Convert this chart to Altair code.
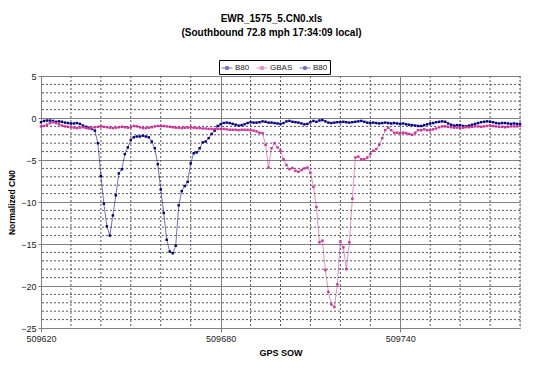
import altair as alt
import pandas as pd

# ---- data (1 s steps starting at GPS SOW 509620) ----
t0 = 509620
b80_values = [
    -0.5, -0.35, -0.3, -0.3, -0.35, -0.45, -0.4, -0.45, -0.55, -0.6, -0.65, -0.65, -0.6, -0.7, -0.9, -1.05, -1.15, -1.3,
    -1.5, -3.0, -6.9, -10.2, -12.9, -14.0, -11.6, -9.2, -6.6, -6.1, -4.3, -3.5, -2.6, -2.3, -2.2, -2.2, -2.1, -2.2, -2.3,
    -2.8, -3.6, -5.5, -8.5, -11.3, -14.5, -15.9, -16.1, -15.2, -10.4, -8.7, -8.1, -7.6, -5.4, -4.2, -4.1, -3.6, -2.9,
    -2.8, -2.4, -1.9, -1.5, -0.95, -0.75,
    -0.6, -0.55, -0.6, -0.7, -0.8, -0.9, -0.85, -0.75, -0.6, -0.5,
    -0.55, -0.55, -0.5, -0.4, -0.45, -0.55, -0.55, -0.6, -0.65, -0.7,
    -0.6, -0.4, -0.35, -0.45, -0.5, -0.55, -0.65, -0.75, -0.7, -0.5,
    -0.35, -0.45, -0.3, -0.25, -0.4, -0.55, -0.6, -0.55, -0.5, -0.5,
    -0.45, -0.5, -0.55, -0.5, -0.45, -0.4, -0.35, -0.45, -0.55,
    -0.6, -0.55, -0.6, -0.65, -0.6, -0.55, -0.6, -0.65, -0.6, -0.65,
    -0.7, -0.65, -0.75, -0.8, -0.85, -0.9, -0.95, -0.95, -0.85, -0.75,
    -0.65, -0.6, -0.5, -0.45, -0.4, -0.45, -0.65, -0.8, -0.9, -0.85,
    -0.85, -0.95, -1.0, -0.9, -0.8, -0.7, -0.6, -0.5, -0.45, -0.4,
    -0.45, -0.5, -0.6, -0.65, -0.6, -0.6, -0.65, -0.7, -0.65, -0.7,
    -0.7,
]
gbas_values = [
    -1.0, -0.95, -0.8, -0.6, -0.5, -0.6, -0.75, -0.9, -1.0, -1.05, -1.1, -1.15, -1.2, -1.15, -1.1, -1.2, -1.25, -1.2,
    -1.1, -1.05, -1.0,
    -1.05, -1.1, -1.15, -1.2, -1.15, -1.1, -1.05, -1.1, -1.15, -1.1, -0.95, -1.0, -1.1, -1.2, -1.2, -1.15,
    -1.1, -1.0, -0.95, -0.95, -0.95, -1.0, -1.05, -1.1, -1.15, -1.15, -1.2, -1.15, -1.15, -1.1, -1.15, -1.2, -1.2,
    -1.25, -1.25, -1.3, -1.3, -1.3, -1.3,
    -1.3, -1.3, -1.35, -1.4, -1.4, -1.4, -1.45, -1.4, -1.4, -1.4, -1.45, -1.5, -1.6, -1.75,
    -1.8, -3.2, -5.9, -3.6, -3.0, -3.5, -3.9, -4.9, -5.6, -6.1,
    -5.95, -6.3, -6.4, -6.2, -6.0, -5.9, -6.5, -8.2, -10.6, -14.8,
    -14.6, -18.1, -20.7, -22.2, -22.5, -19.8, -14.7, -15.4, -18.0, -14.8,
    -9.6, -4.7, -4.6, -4.9, -4.9, -4.7, -4.3, -3.9, -3.7, -3.2,
    -2.4, -1.45, -1.15, -1.45, -1.75, -1.75, -1.8, -1.75, -1.8, -1.9,
    -2.0, -1.75, -1.45, -1.45, -1.35, -1.45, -1.45, -1.35, -1.25, -1.1,
    -1.0,
    -1.0, -1.05, -1.1, -1.15, -1.15, -1.2, -1.15, -1.1, -1.1, -1.05, -1.0, -1.0, -1.05, -1.0, -0.95, -0.9, -0.95,
    -1.0, -1.05, -1.05, -1.1, -1.05, -1.0, -1.0, -1.0, -0.95,
]
series_names = ["B80", "GBAS", "B80 "]
series_colors = ["#000080", "#CC3399", "#000080"]
x_major = [509620, 509680, 509740]
y_major = [-25, -20, -15, -10, -5, 0, 5]
x_minor = [v for v in range(509620, 509781, 10) if (v - 509620) % 60 != 0]
y_minor = [v for v in range(-24, 5) if v % 5 != 0]

rows = []
for i, v in enumerate(b80_values):
    rows.append({"sow": t0 + i, "value": v, "series": "B80"})
for i, v in enumerate(gbas_values):
    rows.append({"sow": t0 + i, "value": v, "series": "GBAS"})
df = pd.DataFrame(rows)

FONT = "Liberation Sans"
xscale = alt.Scale(domain=[509620, 509780], nice=False, zero=False)
yscale = alt.Scale(domain=[-25, 5], nice=False, zero=False)
xaxis = alt.Axis(values=x_major, format="d", title="GPS SOW", grid=True, gridColor="#808080",
                 gridWidth=1, tickSize=4, tickColor="#808080", domainColor="#808080",
                 labelFontSize=9, labelFont=FONT, labelColor="#222", labelPadding=2,
                 titleFont=FONT, titleFontSize=9, titleFontWeight="bold", titlePadding=5,
                 labelFlush=False)
yaxis = alt.Axis(values=y_major, title="Normalized CN0", grid=True, gridColor="#808080",
                 gridWidth=1, tickSize=3, tickColor="#808080", domainColor="#808080",
                 labelFontSize=9, labelFont=FONT, labelColor="#222", labelPadding=2,
                 titleFont=FONT, titleFontSize=8.5, titleFontWeight="bold", titlePadding=4)

hrule = alt.Chart(pd.DataFrame({"value": y_minor})).mark_rule(
    strokeDash=[2, 2], color="#555555", strokeWidth=1
).encode(y=alt.Y("value:Q", scale=yscale, axis=yaxis))
vrule = alt.Chart(pd.DataFrame({"sow": x_minor})).mark_rule(
    strokeDash=[2, 2], color="#555555", strokeWidth=1
).encode(x=alt.X("sow:Q", scale=xscale, axis=xaxis))

legend = alt.Legend(
    title=None, orient="none", legendX=178, legendY=-16, direction="horizontal",
    strokeColor="#000000", padding=2, labelFontSize=8, labelFont=FONT, labelColor="#222",
    symbolType="M-1,0L1,0M-0.25,-0.25L0.25,-0.25L0.25,0.25L-0.25,0.25Z",
    symbolSize=121, symbolStrokeWidth=1, columnPadding=4, labelOffset=2,
)
color = alt.Color("series:N", scale=alt.Scale(domain=series_names, range=series_colors),
                  legend=legend)
base = alt.Chart(df).encode(
    x=alt.X("sow:Q", scale=xscale, axis=xaxis),
    y=alt.Y("value:Q", scale=yscale, axis=yaxis),
    color=color,
)
lines = base.mark_line(strokeWidth=1, opacity=0.55)
points = base.mark_point(shape="square", filled=True, size=6, opacity=1)

chart = alt.layer(hrule, vrule, lines, points).properties(
    width=479, height=252,
    autosize=alt.AutoSizeParams(type="none"),
    padding={"left": 33, "top": 68, "right": 12, "bottom": 33},
    title=alt.TitleParams(
        text=["EWR_1575_5.CN0.xls", "(Southbound 72.8 mph 17:34:09 local)"],
        font=FONT, fontSize=10, fontWeight="bold", color="#000", anchor="middle",
        lineHeight=14, offset=22, dx=-9,
    ),
).configure_view(stroke="#808080", strokeWidth=1).configure(background="white")

chart.save("out.html", embed_options={"renderer": "svg", "actions": False})
